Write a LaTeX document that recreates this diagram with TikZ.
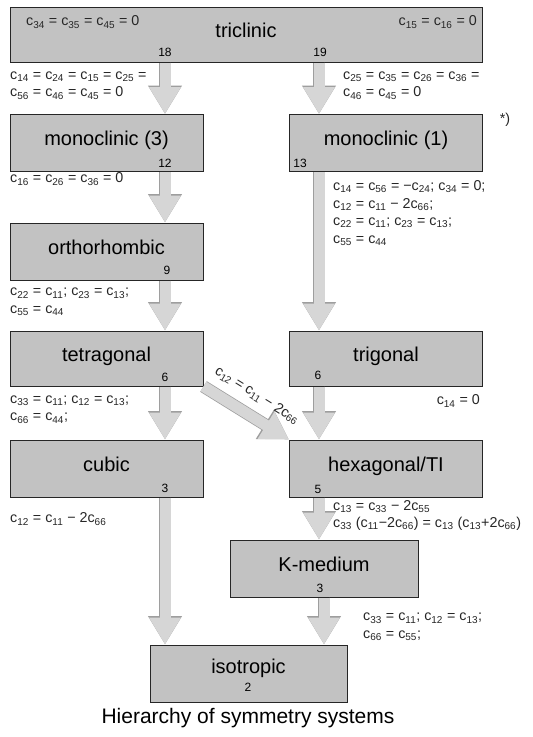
\documentclass[tikz,border=0pt]{standalone}
\usepackage{fontspec}
\setmainfont{Liberation Sans}
\usetikzlibrary{arrows.meta}
\definecolor{boxgray}{gray}{0.76}
\definecolor{arrowgray}{gray}{0.84}
\definecolor{edgegray}{gray}{0.62}
\newcommand{\cij}[1]{c\textsubscript{#1}}
\tikzset{
  sysbox/.style={draw=black!85, line width=1pt, fill=boxgray, minimum width=193pt,
    minimum height=57pt, inner sep=0pt, font=\fontsize{20}{24}\selectfont,
    text height=14pt, text depth=9pt},
  num/.style={font=\fontsize{12}{14}\selectfont, inner sep=1pt},
  eqn/.style={font=\fontsize{14.3}{17.5}\selectfont, align=left, inner sep=0pt, text=black!85},
  blockarrow/.style={draw=arrowgray, line width=11pt, -{Triangle[length=27pt,width=30pt]},
    preaction={draw=edgegray, line width=12.5pt, -{Triangle[length=28.5pt,width=32pt]}}}
}
\begin{document}
\begin{tikzpicture}[x=1pt, y=-1pt]
        \path[fill=white] (0,0) rectangle (533,737);
        \useasboundingbox (0,0) rectangle (533,737);
        \coordinate (colL) at (165,0);
        \coordinate (colR) at (319,0);
        % boxes
        \node [sysbox, minimum width=472pt, minimum height=55pt] (tri) at (246,34.5) {triclinic};
        \node [sysbox] (mono3) at (106.5,143) {monoclinic (3)};
        \node [sysbox] (mono1) at (386,143) {monoclinic (1)};
        \node [sysbox] (ortho) at (106.5,251.5) {orthorhombic};
        \node [sysbox, minimum height=55pt] (tetra) at (106.5,358.5) {tetragonal};
        \node [sysbox, minimum height=55pt] (trig) at (386,358.5) {trigonal};
        \node [sysbox] (cubic) at (106.5,468.5) {cubic};
        \node [sysbox] (hex) at (386,468.5) {hexagonal/TI};
        \node [sysbox, minimum width=188pt] (kmed) at (324,568.5) {K-medium};
        \node [sysbox, minimum width=197pt, text depth=14pt] (iso) at (248.5,673.5) {isotropic};
        % numbers of constants
        \node [num] (ntri1) at (165,52) {18};
        \node [num] (ntri2) at (320,52) {19};
        \node [num] (nmono3) at (165,163) {12};
        \node [num] (nmono1) at (300,163) {13};
        \node [num] (northo) at (167,270) {9};
        \node [num] (ntetra) at (165,377) {6};
        \node [num] (ntrig) at (318,375) {6};
        \node [num] (ncubic) at (165,488) {3};
        \node [num] (nhex) at (318,489) {5};
        \node [num] (nkmed) at (320,588) {3};
        \node [num] (niso) at (248,687) {2};
        % arrows
        \draw [blockarrow] (tri.south -| colL) -- (mono3.north -| colL);
        \draw [blockarrow] (tri.south -| colR) -- (mono1.north -| colR);
        \draw [blockarrow] (mono3.south -| colL) -- (ortho.north -| colL);
        \draw [blockarrow] (mono1.south -| colR) -- (trig.north -| colR);
        \draw [blockarrow] (ortho.south -| colL) -- (tetra.north -| colL);
        \draw [blockarrow] (tetra.south -| colL) -- (cubic.north -| colL);
        \draw [blockarrow] (trig.south -| colR) -- (hex.north -| colR);
        \draw [blockarrow] (tetra.south east) -- node [eqn, sloped, above=9pt] {\cij{12} = \cij{11} − 2\cij{66}} (hex.north west);
        \draw [blockarrow] (hex.south -| colR) -- (kmed.north -| colR);
        \draw [blockarrow] (cubic.south -| colL) -- (iso.north -| colL);
        \draw [blockarrow] (kmed.south) -- (iso.north -| kmed.south);
        % conditions
        \node [eqn, anchor=west] (e1) at (26,22) {\cij{34} = \cij{35} = \cij{45} = 0};
        \node [eqn, anchor=east] (e2) at (477,22) {\cij{15} = \cij{16} = 0};
        \node [eqn, anchor=west] (e3) at (10,85.5) {\cij{14} = \cij{24} = \cij{15} = \cij{25} =\\\cij{56} = \cij{46} = \cij{45} = 0};
        \node [eqn, anchor=west] (e4) at (343,85.5) {\cij{25} = \cij{35} = \cij{26} = \cij{36} =\\\cij{46} = \cij{45} = 0};
        \node [eqn, anchor=west] (e5) at (10,179) {\cij{16} = \cij{26} = \cij{36} = 0};
        \node [eqn, anchor=west] (e6) at (333,213) {\cij{14} = \cij{56} = −\cij{24}; \cij{34} = 0;\\\cij{12} = \cij{11} − 2\cij{66};\\\cij{22} = \cij{11}; \cij{23} = \cij{13};\\\cij{55} = \cij{44}};
        \node [eqn, anchor=west] (e7) at (10,302) {\cij{22} = \cij{11}; \cij{23} = \cij{13};\\\cij{55} = \cij{44}};
        \node [eqn, anchor=west] (e8) at (10,409.5) {\cij{33} = \cij{11}; \cij{12} = \cij{13};\\\cij{66} = \cij{44};};
        \node [eqn, anchor=east] (e9) at (480,401) {\cij{14} = 0};
        \node [eqn, anchor=west] (e10) at (10,519) {\cij{12} = \cij{11} − 2\cij{66}};
        \node [eqn, anchor=west] (e11) at (333,515.5) {\cij{13} = \cij{33} − 2\cij{55}\\\cij{33} (\cij{11}−2\cij{66}) = \cij{13} (\cij{13}+2\cij{66})};
        \node [eqn, anchor=west] (e12) at (363,627) {\cij{33} = \cij{11}; \cij{12} = \cij{13};\\\cij{66} = \cij{55};};
        \node [eqn] (star) at (505,120) {*)};
        \node [font=\fontsize{21}{25}\selectfont] (caption) at (248,718) {Hierarchy of symmetry systems};
    \end{tikzpicture}
\end{document}
